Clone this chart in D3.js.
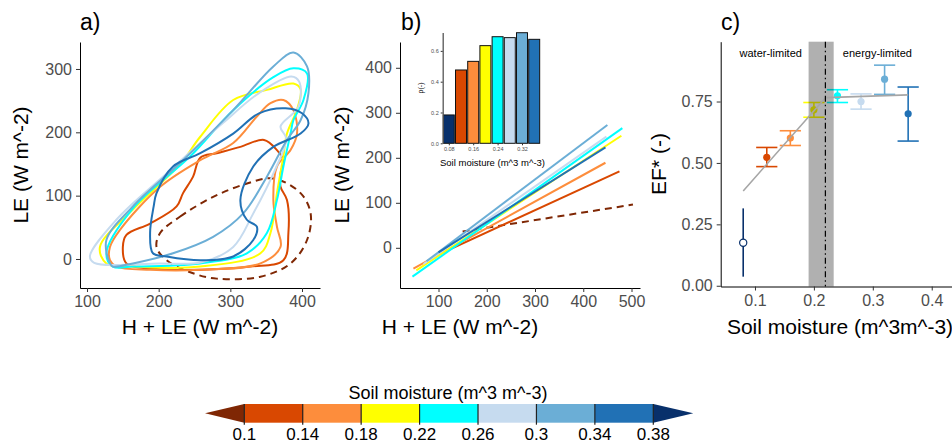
<!DOCTYPE html>
<html>
<head>
<meta charset="utf-8">
<script src="https://cdn.jsdelivr.net/npm/d3@7"></script>
<style>
body { margin: 0; background: #fff; }
svg { display: block; font-family: "Liberation Sans", Arial, Helvetica, sans-serif; }
</style>
</head>
<body>
<svg width="952" height="446"></svg>
<script>
// soil moisture bins
var bins = [0.08, 0.12, 0.16, 0.20, 0.24, 0.28, 0.32, 0.36];
// colours used in a) and b) (driest bin is the dashed brown one)
var lineColors = ["#7f2704", "#d94801", "#fd8d3c", "#ffff00", "#00ffff", "#c6dbef", "#6baed6", "#2171b5"];
// colours used in the inset and c) (driest bin is navy)
var binColors = ["#08306b", "#d94801", "#fd8d3c", "#ffff00", "#00ffff", "#c6dbef", "#6baed6", "#2171b5"];

// a) density contours, [H+LE, LE]
var contourDry = [[202,41],[230,67],[276,98],[320,118],[360,127],[398,104],[412,72],[407,30],[384,-7],[342,-28],[281,-31],[249,-23],[211,-2],[197,19]];
var contour012 = [[150,19],[155,38],[188,56],[225,83],[234,104],[248,130],[258,160],[281,167],[314,177],[347,188],[365,172],[374,156],[370,135],[370,114],[379,93],[381,41],[374,-2],[328,-12],[258,-17],[188,-15],[155,-7]];
var contour016 = [[132,19],[146,46],[202,114],[258,156],[304,183],[337,225],[356,246],[374,251],[388,235],[393,198],[384,172],[365,146],[360,93],[365,51],[370,19],[342,-7],[258,-17],[188,-17],[141,-12],[132,-2]];
var contour020 = [[118,19],[164,78],[230,150],[258,193],[304,251],[351,267],[388,277],[398,268],[393,236],[379,198],[374,162],[365,104],[356,41],[342,9],[258,-12],[164,-12],[127,-7]];
var contour024 = [[127,9],[164,80],[244,162],[304,235],[360,287],[388,301],[407,293],[402,251],[388,219],[384,198],[374,146],[365,93],[351,41],[323,9],[258,-7],[164,-12],[136,-12]];
var contour028 = [[104,4],[141,62],[211,135],[290,215],[340,262],[385,288],[396,280],[395,240],[370,209],[378,190],[362,140],[332,72],[304,19],[260,-5],[200,-7],[110,-6]];
var contour032 = [[132,-7],[127,30],[164,83],[234,156],[304,235],[360,304],[388,326],[407,304],[409,262],[398,219],[379,188],[351,130],[318,72],[276,35],[220,9],[164,-7],[136,-12]];
var contour036 = [[192,9],[188,41],[193,83],[197,104],[220,146],[258,167],[304,198],[340,230],[377,238],[400,230],[409,214],[398,198],[360,177],[332,146],[314,93],[323,62],[337,51],[332,30],[304,4],[258,-2],[211,4]];
var contours = [contourDry, contour012, contour016, contour020, contour024, contour028, contour032, contour036];

// b) fitted lines, start and end points
var bLineX0 = [150, 100, 48, 54, 46, 69, 75, 100];
var bLineY0 = [36, -15, -46, -50, -64, -36, -30, -10];
var bLineX1 = [503, 475, 446, 479, 481, 448, 450, 446];
var bLineY1 = [96, 170, 189, 249, 266, 247, 273, 223];

// b) inset bars
var rho = [0.184, 0.476, 0.532, 0.634, 0.692, 0.686, 0.718, 0.675];

// c) EF* per bin with error bars
var efMean = [0.175, 0.523, 0.601, 0.716, 0.773, 0.750, 0.841, 0.700];
var efLow = [0.037, 0.485, 0.571, 0.686, 0.746, 0.719, 0.779, 0.589];
var efHigh = [0.315, 0.563, 0.631, 0.746, 0.798, 0.781, 0.898, 0.809];
var regX = [0.08, 0.22, 0.36];
var regY = [0.386, 0.766, 0.777];
var breakLow = 0.191, breakMid = 0.2195, breakHigh = 0.2336;

// legend
var legendBreaks = [0.1, 0.14, 0.18, 0.22, 0.26, 0.3, 0.34, 0.38];
var legendLabels = ["0.1", "0.14", "0.18", "0.22", "0.26", "0.3", "0.34", "0.38"];
var legendColors = ["#d94801", "#fd8d3c", "#ffff00", "#00ffff", "#c6dbef", "#6baed6", "#2171b5"];
var legendEnds = ["#7f2704", "#08306b"];

var svg = d3.select("svg");

function styleAxis(g, size) {
  g.select(".domain").attr("stroke", "#000").attr("stroke-width", 1);
  g.selectAll(".tick line").attr("stroke", "#333");
  g.selectAll(".tick text").attr("fill", "#4d4d4d").style("font-size", size + "px").attr("font-family", null);
}

function panelLabel(x, t) {
  svg.append("text").attr("x", x).attr("y", 30).style("font-size", "23px").text(t);
}

// ---------- a) ----------
var xa = d3.scaleLinear().domain([90.2, 425.1]).range([80, 320]);
var ya = d3.scaleLinear().domain([-45.8, 342.6]).range([288, 42]);
var ga = svg.append("g");

var contourLine = d3.line().x(function(d){ return xa(d[0]); }).y(function(d){ return ya(d[1]); })
  .curve(d3.curveCatmullRomClosed.alpha(0.5));

ga.selectAll("path.contour")
  .data(contours)
  .enter()
  .append("path")
    .attr("class", "contour")
    .attr("d", function(d){ return contourLine(d); })
    .attr("fill", "none")
    .attr("stroke", function(d, i){ return lineColors[i]; })
    .attr("stroke-width", 2)
    .attr("stroke-dasharray", function(d, i){ return i == 0 ? "7,5" : null; });

ga.append("g").attr("transform", "translate(0,288)")
  .call(d3.axisBottom(xa).tickValues([100, 200, 300, 400]).tickSize(4).tickSizeOuter(0).tickPadding(4))
  .call(styleAxis, 16);
ga.append("g").attr("transform", "translate(80,0)")
  .call(d3.axisLeft(ya).tickValues([0, 100, 200, 300]).tickSize(4).tickSizeOuter(0).tickPadding(4))
  .call(styleAxis, 16);
ga.append("text").attr("x", 200).attr("y", 334).attr("text-anchor", "middle")
  .style("font-size", "21px").text("H + LE (W m^-2)");
ga.append("text").attr("transform", "translate(28,165) rotate(-90)").attr("text-anchor", "middle")
  .style("font-size", "21px").text("LE (W m^-2)");
panelLabel(80, "a)");

// ---------- b) ----------
var xb = d3.scaleLinear().domain([20.2, 517.6]).range([400, 640]);
var yb = d3.scaleLinear().domain([-89.3, 457.3]).range([288, 42]);
var gb = svg.append("g");

gb.selectAll("line.fit")
  .data(bins)
  .enter()
  .append("line")
    .attr("class", "fit")
    .attr("x1", function(d, i){ return xb(bLineX0[i]); })
    .attr("y1", function(d, i){ return yb(bLineY0[i]); })
    .attr("x2", function(d, i){ return xb(bLineX1[i]); })
    .attr("y2", function(d, i){ return yb(bLineY1[i]); })
    .attr("stroke", function(d, i){ return lineColors[i]; })
    .attr("stroke-width", 2)
    .attr("stroke-dasharray", function(d, i){ return i == 0 ? "7,5" : null; });

gb.append("g").attr("transform", "translate(0,288)")
  .call(d3.axisBottom(xb).tickValues([100, 200, 300, 400, 500]).tickSize(4).tickSizeOuter(0).tickPadding(4))
  .call(styleAxis, 16);
gb.append("g").attr("transform", "translate(400,0)")
  .call(d3.axisLeft(yb).tickValues([0, 100, 200, 300, 400]).tickSize(4).tickSizeOuter(0).tickPadding(4))
  .call(styleAxis, 16);
gb.append("text").attr("x", 460).attr("y", 334).attr("text-anchor", "middle")
  .style("font-size", "21px").text("H + LE (W m^-2)");
gb.append("text").attr("transform", "translate(349,165) rotate(-90)").attr("text-anchor", "middle")
  .style("font-size", "21px").text("LE (W m^-2)");
panelLabel(401, "b)");

// inset
var xi = d3.scaleLinear().domain([0.08, 0.36]).range([448.8, 534.2]);
var yi = d3.scaleLinear().domain([0, 0.72]).range([143.3, 32.4]);
var gi = svg.append("g");
gi.selectAll("rect")
  .data(rho)
  .enter()
  .append("rect")
    .attr("x", function(d, i){ return xi(bins[i] - 0.018); })
    .attr("width", xi(0.118) - xi(0.082))
    .attr("y", function(d){ return yi(d); })
    .attr("height", function(d){ return yi(0) - yi(d); })
    .attr("fill", function(d, i){ return binColors[i]; })
    .attr("stroke", "#111")
    .attr("stroke-width", 1);
gi.append("g").attr("transform", "translate(0,143.3)")
  .call(d3.axisBottom(xi).tickValues([0.08, 0.16, 0.24, 0.32]).tickFormat(d3.format(".2f")).tickSize(2).tickSizeOuter(0).tickPadding(2))
  .call(styleAxis, 5.5)
  .call(function(g){ g.select(".domain").remove(); });
gi.append("g").attr("transform", "translate(442.7,0)")
  .call(d3.axisLeft(yi).tickValues([0, 0.2, 0.4, 0.6]).tickFormat(d3.format(".1f")).tickSize(2).tickSizeOuter(0).tickPadding(2))
  .call(styleAxis, 5.5)
  .call(function(g){ g.select(".domain").attr("stroke", "#555").attr("stroke-width", 1.3); });
gi.append("text").attr("x", 492.5).attr("y", 165.5).attr("text-anchor", "middle")
  .style("font-size", "9.5px").text("Soil moisture (m^3 m^-3)");
gi.append("text").attr("transform", "translate(423,88) rotate(-90)").attr("text-anchor", "middle")
  .style("font-size", "7px").text("ρ(-)");

// ---------- c) ----------
var xc = d3.scaleLinear().domain([0.0418, 0.448]).range([720.7, 960]);
var yc = d3.scaleLinear().domain([-0.003, 0.9935]).range([286.5, 41.7]);
var gc = svg.append("g");

gc.append("text").attr("x", xc(0.1267)).attr("y", 56.5).attr("text-anchor", "middle")
  .style("font-size", "11px").text("water-limited");
gc.append("text").attr("x", xc(0.3077)).attr("y", 56.5).attr("text-anchor", "middle")
  .style("font-size", "11px").text("energy-limited");

var bars = gc.selectAll("g.eb")
  .data(bins)
  .enter()
  .append("g")
    .attr("class", "eb")
    .attr("stroke", function(d, i){ return binColors[i]; })
    .attr("stroke-width", 1.6);
bars.append("line")
  .attr("x1", function(d){ return xc(d); }).attr("x2", function(d){ return xc(d); })
  .attr("y1", function(d, i){ return yc(efLow[i]); }).attr("y2", function(d, i){ return yc(efHigh[i]); });
bars.filter(function(d, i){ return i > 0; }).each(function(d, i){
  var k = i + 1, g = d3.select(this);
  [efLow[k], efHigh[k]].forEach(function(v){
    g.append("line").attr("x1", xc(d - 0.018)).attr("x2", xc(d + 0.018))
      .attr("y1", yc(v)).attr("y2", yc(v));
  });
});
gc.selectAll("circle")
  .data(efMean)
  .enter()
  .append("circle")
    .attr("cx", function(d, i){ return xc(bins[i]); })
    .attr("cy", function(d){ return yc(d); })
    .attr("r", 3.6)
    .attr("fill", function(d, i){ return i == 0 ? "#fff" : binColors[i]; })
    .attr("stroke", function(d, i){ return i == 0 ? binColors[0] : "none"; })
    .attr("stroke-width", 1.2);

gc.append("rect")
  .attr("x", xc(breakLow)).attr("width", xc(breakHigh) - xc(breakLow))
  .attr("y", yc(0.9935)).attr("height", yc(-0.003) - yc(0.9935))
  .attr("fill", "#000").attr("fill-opacity", 0.31);

gc.append("path")
  .datum(regX)
  .attr("d", d3.line().x(function(d){ return xc(d); }).y(function(d, i){ return yc(regY[i]); }))
  .attr("fill", "none").attr("stroke", "#a6a6a6").attr("stroke-width", 1.6);

gc.append("line")
  .attr("x1", xc(breakMid)).attr("x2", xc(breakMid))
  .attr("y1", yc(0.9935)).attr("y2", yc(-0.003))
  .attr("stroke", "#000").attr("stroke-width", 1.2).attr("stroke-dasharray", "6,3,1.5,3");

gc.append("g").attr("transform", "translate(0,286.5)")
  .call(d3.axisBottom(xc).tickValues([0.1, 0.2, 0.3, 0.4]).tickFormat(d3.format(".1f")).tickSize(4).tickSizeOuter(0).tickPadding(4))
  .call(styleAxis, 16);
gc.append("g").attr("transform", "translate(720.7,0)")
  .call(d3.axisLeft(yc).tickValues([0, 0.25, 0.5, 0.75]).tickFormat(d3.format(".2f")).tickSize(4).tickSizeOuter(0).tickPadding(4))
  .call(styleAxis, 16);
gc.append("text").attr("x", 840).attr("y", 334).attr("text-anchor", "middle")
  .style("font-size", "21px").text("Soil moisture (m^3m^-3)");
gc.append("text").attr("transform", "translate(666,164) rotate(-90)").attr("text-anchor", "middle")
  .style("font-size", "21px").text("EF* (-)");
panelLabel(721, "c)");

// ---------- colour bar legend ----------
var lx = d3.scaleLinear().domain([0.1, 0.38]).range([244.3, 653.3]);
var barTop = 404, barBot = 422.7, barMid = (barTop + barBot) / 2;
var gl = svg.append("g");
gl.selectAll("rect")
  .data(legendColors)
  .enter()
  .append("rect")
    .attr("x", function(d, i){ return lx(legendBreaks[i]); })
    .attr("width", function(d, i){ return lx(legendBreaks[i + 1]) - lx(legendBreaks[i]) + 0.5; })
    .attr("y", barTop).attr("height", barBot - barTop)
    .attr("fill", function(d){ return d; });
gl.append("path")
  .attr("d", "M" + (lx(0.1) - 39.3) + "," + barMid + "L" + lx(0.1) + "," + barTop + "L" + lx(0.1) + "," + barBot + "Z")
  .attr("fill", legendEnds[0]);
gl.append("path")
  .attr("d", "M" + (lx(0.38) + 40) + "," + barMid + "L" + lx(0.38) + "," + barTop + "L" + lx(0.38) + "," + barBot + "Z")
  .attr("fill", legendEnds[1]);
gl.selectAll("line")
  .data(legendBreaks)
  .enter()
  .append("line")
    .attr("x1", function(d){ return lx(d); }).attr("x2", function(d){ return lx(d); })
    .attr("y1", barTop).attr("y2", barBot + 2)
    .attr("stroke", "#222").attr("stroke-width", 1.2);
gl.selectAll("text.lab")
  .data(legendLabels)
  .enter()
  .append("text")
    .attr("class", "lab")
    .attr("x", function(d, i){ return lx(legendBreaks[i]); })
    .attr("y", 440)
    .attr("text-anchor", "middle")
    .style("font-size", "17px")
    .text(function(d){ return d; });
gl.append("text").attr("x", 448).attr("y", 399).attr("text-anchor", "middle")
  .style("font-size", "18px").text("Soil moisture (m^3 m^-3)");
</script>
</body>
</html>
